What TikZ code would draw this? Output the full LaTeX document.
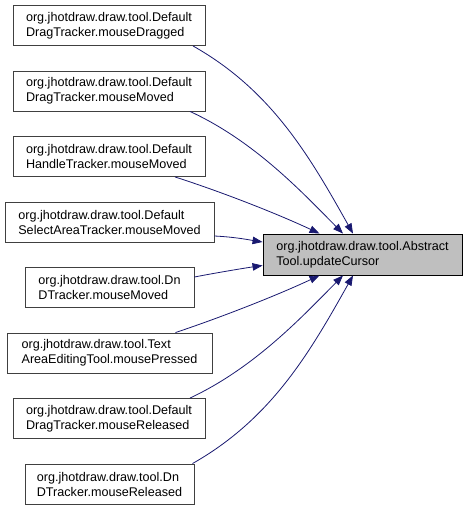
\documentclass[tikz,border=0pt]{standalone}
\usepackage{fontspec}
\setmainfont{Liberation Sans}
\usetikzlibrary{arrows.meta}
\definecolor{edgeblue}{HTML}{191970}
\definecolor{boxline}{HTML}{404040}
\definecolor{targetfill}{HTML}{BFBFBF}
\begin{document}
\begin{tikzpicture}[x=1pt,y=-1pt,
  fnbox/.style={draw=boxline,line width=0.9pt,fill=white,align=left,inner xsep=3pt,inner ysep=2pt,
    minimum height=40pt,font=\fontsize{12.6}{15}\selectfont},
  tgbox/.style={fnbox,draw=black,fill=targetfill,minimum height=41pt},
  call/.style={draw=edgeblue,line width=0.8pt,-{Triangle[length=10pt,width=7.5pt]},fill=none}]
\useasboundingbox (0,0) rectangle (469,509);
\node[fnbox,minimum width=192] (b1) at (109,25.5) {org.jhotdraw.draw.tool.Default\\DragTracker.mouseDragged};
\node[fnbox,minimum width=192] (b2) at (109,91) {org.jhotdraw.draw.tool.Default\\DragTracker.mouseMoved};
\node[fnbox,minimum width=192] (b3) at (109,156.5) {org.jhotdraw.draw.tool.Default\\HandleTracker.mouseMoved};
\node[fnbox,minimum width=209] (b4) at (109.5,222) {org.jhotdraw.draw.tool.Default\\SelectAreaTracker.mouseMoved};
\node[fnbox,minimum width=169] (b5) at (109.5,287.5) {org.jhotdraw.draw.tool.Dn\\DTracker.mouseMoved};
\node[fnbox,minimum width=205] (b6) at (109.5,353) {org.jhotdraw.draw.tool.Text\\AreaEditingTool.mousePressed};
\node[fnbox,minimum width=192] (b7) at (109,418.5) {org.jhotdraw.draw.tool.Default\\DragTracker.mouseReleased};
\node[fnbox,minimum width=169] (b8) at (109.5,484) {org.jhotdraw.draw.tool.Dn\\DTracker.mouseReleased};
\node[tgbox,minimum width=199] (t) at (362.5,254.5) {org.jhotdraw.draw.tool.Abstract\\Tool.updateCursor};
\draw[call] ([xshift=84]b1.south) .. controls (271,90) and (309,155) .. ([xshift=-9.5]t.north);
\draw[call] ([xshift=81]b2.south) .. controls (254,141) and (301,191) .. ([xshift=-19.5]t.north);
\draw[call] ([xshift=66]b3.south) .. controls (225,193) and (280,215) .. ([xshift=-43]t.north);
\draw[call] ([yshift=-14]b4.east) .. controls (235,237) and (250,240) .. ([yshift=12.5]t.west);
\draw[call] ([yshift=10.5]b5.east) .. controls (215,273) and (245,268) .. ([yshift=-11]t.west);
\draw[call] ([xshift=66]b6.north) .. controls (225,316) and (280,294) .. ([xshift=-43]t.south);
\draw[call] ([xshift=81]b7.north) .. controls (254,368) and (301,318) .. ([xshift=-19.5]t.south);
\draw[call] ([xshift=83]b8.north) .. controls (271,419) and (309,354) .. ([xshift=-9.5]t.south);
\end{tikzpicture}
\end{document}
